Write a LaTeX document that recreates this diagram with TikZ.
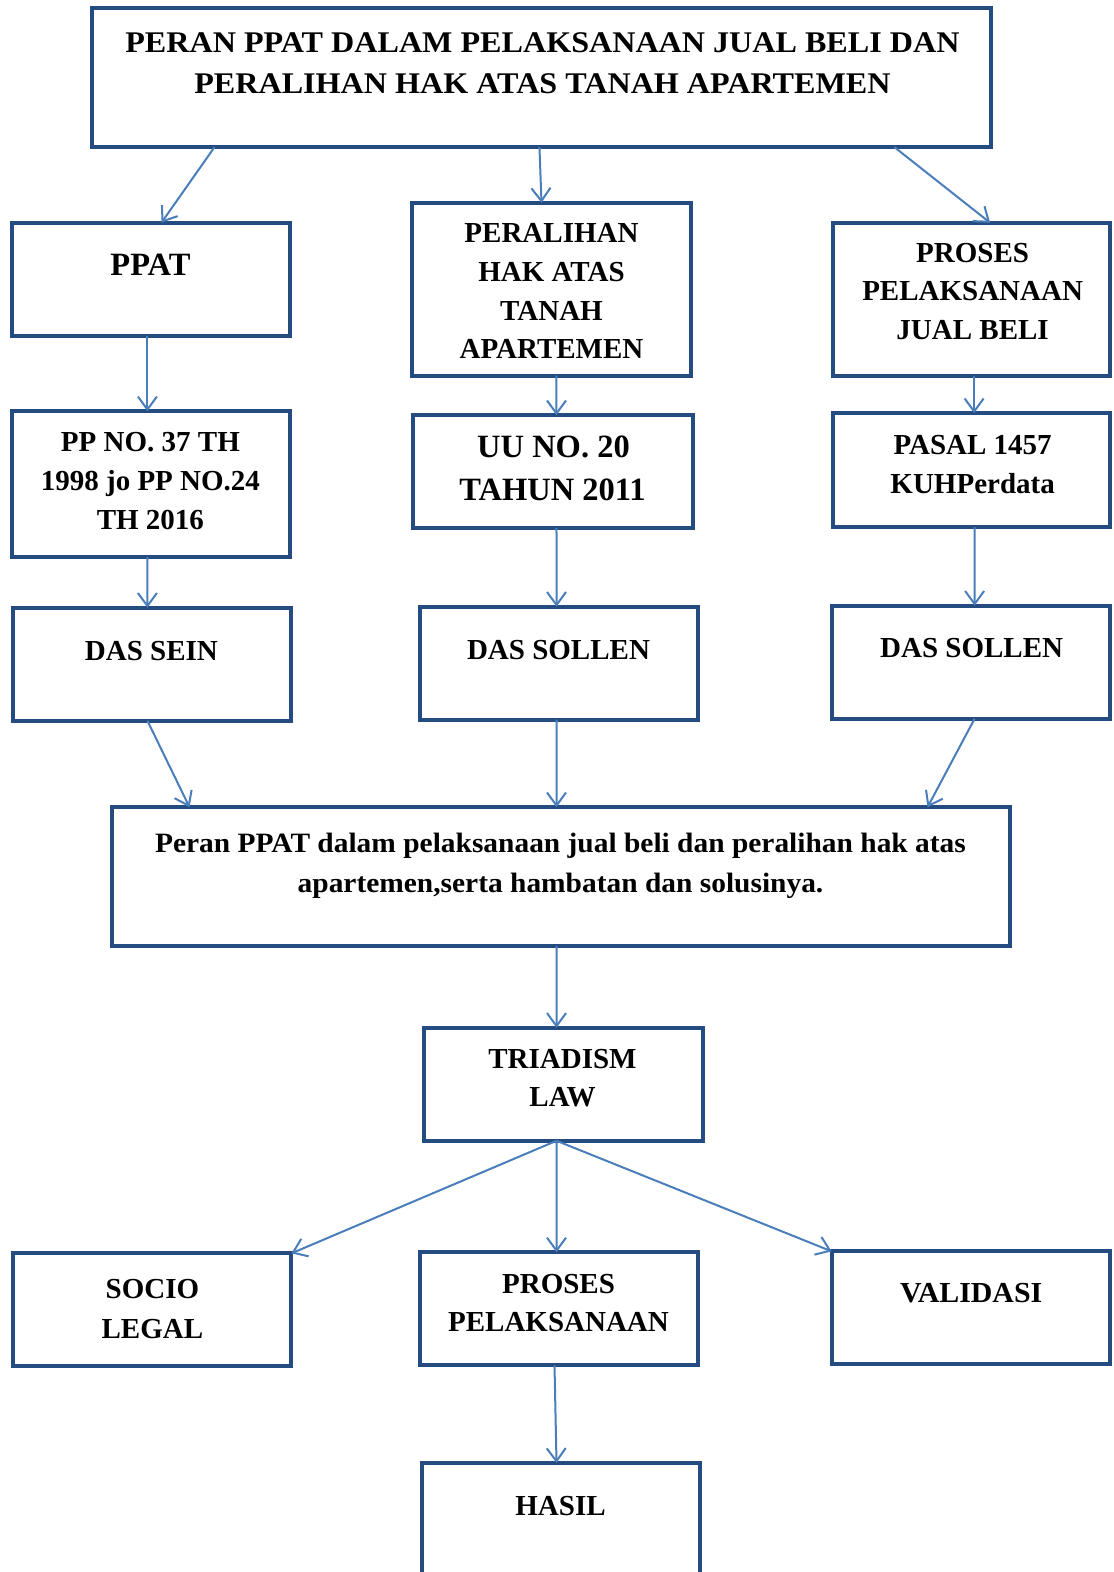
\documentclass[tikz,border=0pt]{standalone}
\usepackage{fontspec}
\setmainfont{Liberation Serif}
\usetikzlibrary{arrows.meta}
\definecolor{boxblue}{RGB}{37,76,128}
\definecolor{arrblue}{RGB}{74,126,187}
\tikzset{
  box/.style={draw=boxblue, line width=4pt, rectangle, inner sep=0pt, outer sep=0pt},
  arr/.style={draw=arrblue, line width=2pt, -{Straight Barb[length=13pt,width=19pt,line width=2pt]}},
  lbl/.style={anchor=base, inner sep=0pt, font=\fontsize{29}{35}\selectfont\bfseries},
  lblb/.style={anchor=base, inner sep=0pt, font=\fontsize{32.5}{38}\selectfont\bfseries},
  lblt/.style={anchor=base, inner sep=0pt, font=\fontsize{30}{36}\selectfont\bfseries},
  lbls/.style={anchor=base, inner sep=0pt, font=\fontsize{28}{32}\selectfont\bfseries}
}
\newcommand{\mybox}[5]{\node[box, minimum width=#4pt, minimum height=#5pt] (#1) at (#2,#3) {};}
\begin{document}
\begin{tikzpicture}[x=1.0027pt,y=-1.00255pt]
\useasboundingbox (0,0) rectangle (1110,1568);
% boxes
\mybox{top}{540.5}{77.5}{899}{139}
\mybox{ppat}{151}{278.5}{278}{113}
\mybox{peral}{550.5}{288.5}{279}{173}
\mybox{proses}{968.5}{298.5}{277}{153}
\mybox{ppno}{151}{483}{278}{146}
\mybox{uu}{551.5}{470.5}{279}{113}
\mybox{pasal}{968.5}{469}{277}{114}
\mybox{sein}{152}{662.5}{278}{113}
\mybox{sollenA}{557}{661.5}{278}{113}
\mybox{sollenB}{968}{660.5}{278}{113}
\mybox{peran}{559}{874.5}{898}{139}
\mybox{tri}{561.5}{1081.5}{279}{113}
\mybox{socio}{152}{1306.5}{278}{113}
\mybox{ppb}{557}{1305.5}{278}{113}
\mybox{valid}{968}{1304.5}{278}{113}
\mybox{hasil}{559}{1524.5}{278}{131}
% texts
\node[lblt] (t1) at (541,52) {\scalebox{1.071}[1]{PERAN PPAT DALAM PELAKSANAAN JUAL BELI DAN}};
\node[lblt] (t2) at (541,93) {\scalebox{1.071}[1]{PERALIHAN HAK ATAS TANAH APARTEMEN}};
\node[lblb] (t3) at (150,274.5) {PPAT};
\node[lbl] (t4) at (550,242) {PERALIHAN};
\node[lbl] (t5) at (550,281) {HAK ATAS};
\node[lbl] (t6) at (550,320) {TANAH};
\node[lbl] (t7) at (550,358) {APARTEMEN};
\node[lbl] (t8) at (970,262) {PROSES};
\node[lbl] (t9) at (970,300) {PELAKSANAAN};
\node[lbl] (t10) at (970,339) {JUAL BELI};
\node[lbl] (t11) at (150,450) {PP NO. 37 TH};
\node[lbl] (t12) at (150,489) {1998 jo PP NO.24};
\node[lbl] (t13) at (150,528) {TH 2016};
\node[lblb] (t14) at (552,456.5) {UU NO. 20};
\node[lblb] (t15) at (551,499.5) {TAHUN 2011};
\node[lbl] (t16) at (970,453) {PASAL 1457};
\node[lbl] (t17) at (970,492) {KUHPerdata};
\node[lbl] (t18) at (151,659) {DAS SEIN};
\node[lbl] (t19) at (557,658) {DAS SOLLEN};
\node[lbl] (t20) at (969,656) {DAS SOLLEN};
\node[lbls] (t21) at (559,850) {\scalebox{1.051}[1]{Peran PPAT dalam pelaksanaan jual beli dan peralihan hak atas}};
\node[lbls] (t22) at (559,890) {\scalebox{1.051}[1]{apartemen,serta hambatan dan solusinya.}};
\node[lbl] (t23) at (561,1066) {TRIADISM};
\node[lbl] (t24) at (561,1104) {LAW};
\node[lbl] (t25) at (152,1295) {SOCIO};
\node[lbl] (t26) at (152,1335) {LEGAL};
\node[lbl] (t27) at (557,1290) {PROSES};
\node[lbl] (t28) at (557,1328) {PELAKSANAAN};
\node[lbl] (t29) at (968.5,1299) {\scalebox{1.03}[1]{VALIDASI}};
\node[lbl] (t30) at (559,1512) {HASIL};
% arrows
\draw[arr] ([xshift=-327.5pt]top.south) -- ([xshift=10pt]ppat.north);
\draw[arr] ([xshift=-2.5pt]top.south) -- ([xshift=-10.5pt]peral.north);
\draw[arr] ([xshift=352.5pt]top.south) -- ([xshift=19pt]proses.north);
\draw[arr] ([xshift=-4pt]ppat.south) -- ([xshift=-4pt]ppno.north);
\draw[arr] ([xshift=4.5pt]peral.south) -- ([xshift=3.5pt]uu.north);
\draw[arr] ([xshift=3pt]proses.south) -- ([xshift=3pt]pasal.north);
\draw[arr] ([xshift=-4pt]ppno.south) -- ([xshift=-5pt]sein.north);
\draw[arr] ([xshift=3.5pt]uu.south) -- ([xshift=-2pt]sollenA.north);
\draw[arr] ([xshift=3.5pt]pasal.south) -- ([xshift=4pt]sollenB.north);
\draw[arr] ([xshift=-5pt]sein.south) -- ([xshift=-371pt]peran.north);
\draw[arr] ([xshift=-2pt]sollenA.south) -- ([xshift=-4pt]peran.north);
\draw[arr] ([xshift=4pt]sollenB.south) -- ([xshift=367pt]peran.north);
\draw[arr] ([xshift=-4pt]peran.south) -- ([xshift=-6.5pt]tri.north);
\draw[arr] ([xshift=-6.5pt]tri.south) -- (socio.north east);
\draw[arr] ([xshift=-6.5pt]tri.south) -- ([xshift=-2pt]ppb.north);
\draw[arr] ([xshift=-6.5pt]tri.south) -- (valid.north west);
\draw[arr] ([xshift=-4pt]ppb.south) -- ([xshift=-4pt]hasil.north);
\end{tikzpicture}
\end{document}
